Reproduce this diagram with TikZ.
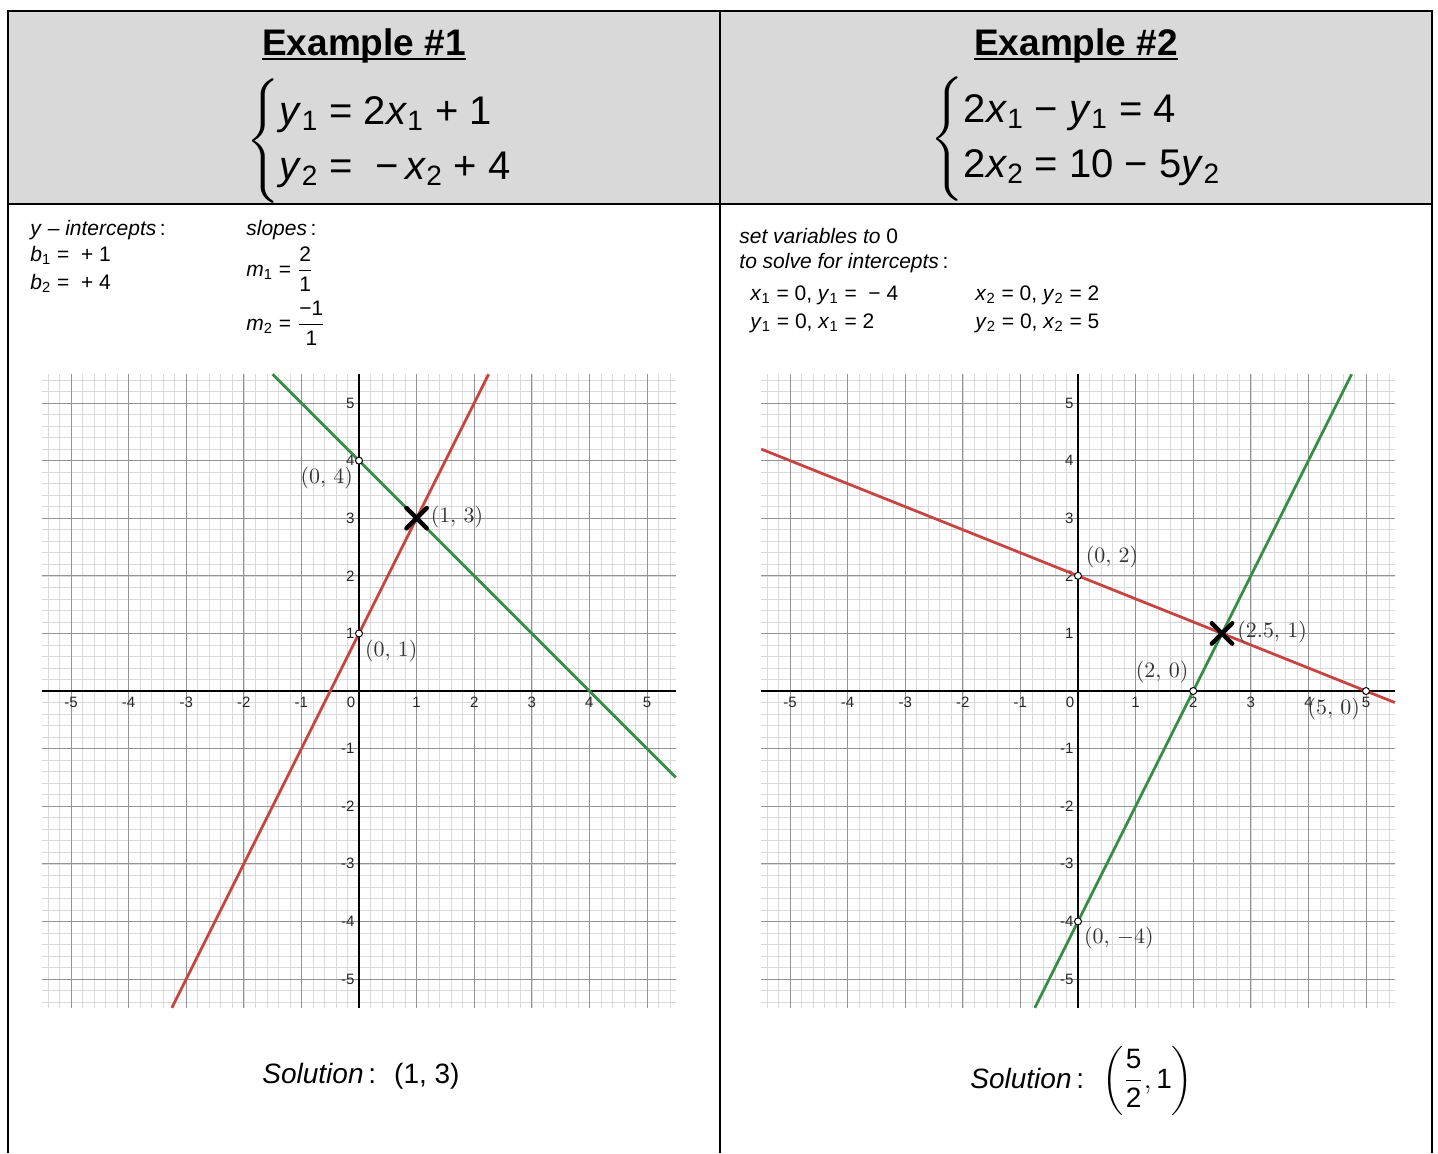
\documentclass[tikz,border=0pt]{standalone}
\usepackage{amsmath}
\usepackage{fontspec}
\setmainfont{Liberation Sans}
\usetikzlibrary{shapes.misc}

\definecolor{dred}{HTML}{C74440}
\definecolor{dgreen}{HTML}{388C46}
\definecolor{hdrgray}{HTML}{D9D9D9}

\newcommand\vr[2]{\textit{#1}\textsubscript{#2}}

\begin{document}
\begin{tikzpicture}[x=0.5pt, y=-0.5pt,
  cellline/.style={line width=1pt},
  title/.style={anchor=base, font=\fontsize{18.5}{22}\selectfont\bfseries, inner sep=0pt},
  system/.style={anchor=west, font=\fontsize{20}{27.5}\selectfont, inner sep=0pt},
  smalltxt/.style={anchor=base west, font=\fontsize{10.5}{12}\selectfont, inner sep=0pt},
  soltxt/.style={anchor=base west, font=\fontsize{14}{16}\selectfont, inner sep=0pt},
  minorgrid/.style={gray!30, line width=0.3pt},
  majorgrid/.style={gray!85, line width=0.5pt},
  axisline/.style={black, line width=0.8pt},
  ticklbl/.style={font=\fontsize{7.5}{8}\selectfont, text=black!85, inner sep=0pt},
  redline/.style={dred, line width=1.4pt},
  greenline/.style={dgreen, line width=1.4pt},
  opendot/.style={circle, draw, fill=white, inner sep=0pt, minimum size=3.5pt, line width=0.5pt},
  solx/.style={cross out, draw, line width=2.2pt, line cap=round, minimum size=8pt, inner sep=0pt},
  ptlabel/.style={text=black!80, font=\fontsize{11}{12}\selectfont, inner sep=0pt}
]
  \useasboundingbox (0,0) rectangle (1438,1153);

  % table
  \fill[hdrgray] (8,11) rectangle (1432,204);
  \draw[cellline] (8,1153) -- (8,11) -- (1432,11) -- (1432,1153);
  \draw[cellline] (8,204) -- (1432,204);
  \draw[cellline] (720,11) -- (720,1153);

  % headers
  \node[title] (titleA) at (364,55) {Example \#1};
  \node[title] (titleB) at (1076,55) {Example \#2};
  \draw[line width=1.1pt] ([yshift=-1.8pt]titleA.base west) -- ([yshift=-1.8pt]titleA.base east);
  \draw[line width=1.1pt] ([yshift=-1.8pt]titleB.base west) -- ([yshift=-1.8pt]titleB.base east);
  \node[system] (sysA) at (246,141) {$\left\{\begin{tabular}{@{}l@{}}
      \vr{y}{1} = 2\vr{x}{1} + 1\\
      \vr{y}{2} = \ −\,\vr{x}{2} + 4
    \end{tabular}\right.$};
  \node[system] (sysB) at (930,139) {$\left\{\begin{tabular}{@{}l@{}}
      2\vr{x}{1} − \vr{y}{1} = 4\\
      2\vr{x}{2} = 10 − 5\vr{y}{2}
    \end{tabular}\right.$};

  % example 1 notes
  \node[smalltxt] (yint) at (30,235) {\textit{y} – \textit{intercepts}\,:};
  \node[smalltxt] (b1) at (30,261) {\vr{b}{1} = \ + 1};
  \node[smalltxt] (b2) at (30,289) {\vr{b}{2} = \ + 4};
  \node[smalltxt] (slopes) at (246,235) {\textit{slopes}\,:};
  \node[smalltxt] (m1) at (246,276) {\vr{m}{1} = $\dfrac{\text{2}}{\text{1}}$};
  \node[smalltxt] (m2) at (246,330) {\vr{m}{2} = $\dfrac{\text{−1}}{\text{1}}$};

  % example 2 notes
  \node[smalltxt] (setvar) at (739,243) {\textit{set variables to} 0};
  \node[smalltxt] (tosolve) at (739,268) {\textit{to solve for intercepts}\,:};
  \node[smalltxt] (int1) at (750,300) {\vr{x}{1} = 0, \vr{y}{1} = \ − 4};
  \node[smalltxt] (int2) at (750,328) {\vr{y}{1} = 0, \vr{x}{1} = 2};
  \node[smalltxt] (int3) at (975,300) {\vr{x}{2} = 0, \vr{y}{2} = 2};
  \node[smalltxt] (int4) at (975,328) {\vr{y}{2} = 0, \vr{x}{2} = 5};

  % graph 1
  \begin{scope}[shift={(359,691)}, x=28.8pt, y=28.8pt]
    \draw[minorgrid] (-5.5,-5.5) grid[step=0.2] (5.5,5.5);
    \draw[majorgrid] (-5.5,-5.5) grid[step=1] (5.5,5.5);
    \draw[axisline] (-5.5,0) -- (5.5,0);
    \draw[axisline] (0,-5.5) -- (0,5.5);
    \foreach \k in {-5,...,-1,1,2,...,5} {
      \node[ticklbl] (Lx\k) at (\k,-0.2) {\k};
      \node[ticklbl, anchor=east] (Ly\k) at (-0.07,\k) {\k};
    }
    \node[ticklbl] (Lo) at (-0.14,-0.2) {0};
    \draw[redline] (-3.25,-5.5) -- (2.25,5.5);
    \draw[greenline] (-1.5,5.5) -- (5.5,-1.5);
    \node[opendot] (Lp01) at (0,1) {};
    \node[opendot] (Lp04) at (0,4) {};
    \node[solx] (Lsol) at (1,3) {};
    \node[ptlabel] (Ll04) at (-0.56,3.70) {$(0,\,4)$};
    \node[ptlabel] (Ll13) at (1.70,3.02) {$(1,\,3)$};
    \node[ptlabel] (Ll01) at (0.56,0.69) {$(0,\,1)$};
  \end{scope}

  % graph 2
  \begin{scope}[shift={(1078,691)}, x=28.8pt, y=28.8pt]
    \draw[minorgrid] (-5.5,-5.5) grid[step=0.2] (5.5,5.5);
    \draw[majorgrid] (-5.5,-5.5) grid[step=1] (5.5,5.5);
    \draw[axisline] (-5.5,0) -- (5.5,0);
    \draw[axisline] (0,-5.5) -- (0,5.5);
    \foreach \k in {-5,...,-1,1,2,...,5} {
      \node[ticklbl] (Rx\k) at (\k,-0.2) {\k};
      \node[ticklbl, anchor=east] (Ry\k) at (-0.07,\k) {\k};
    }
    \node[ticklbl] (Ro) at (-0.14,-0.2) {0};
    \draw[redline] (-5.5,4.2) -- (5.5,-0.2);
    \draw[greenline] (-0.75,-5.5) -- (4.75,5.5);
    \node[opendot] (Rp02) at (0,2) {};
    \node[opendot] (Rp50) at (5,0) {};
    \node[opendot] (Rp20) at (2,0) {};
    \node[opendot] (Rp0m4) at (0,-4) {};
    \node[solx] (Rsol) at (2.5,1) {};
    \node[ptlabel] (Rl02) at (0.59,2.33) {$(0,\,2)$};
    \node[ptlabel] (Rl251) at (3.37,1.02) {$(2.5,\,1)$};
    \node[ptlabel] (Rl20) at (1.46,0.33) {$(2,\,0)$};
    \node[ptlabel] (Rl50) at (4.44,-0.31) {$(5,\,0)$};
    \node[ptlabel] (Rl0m4) at (0.71,-4.29) {$(0,\,-4)$};
  \end{scope}

  % solutions
  \node[soltxt] (solA) at (262,1083) {\textit{Solution}\,: \ (1, 3)};
  \node[soltxt] (solB) at (970,1088) {\textit{Solution}\,: \ $\left(\dfrac{\text{5}}{\text{2}},\text{1}\right)$};
\end{tikzpicture}
\end{document}
